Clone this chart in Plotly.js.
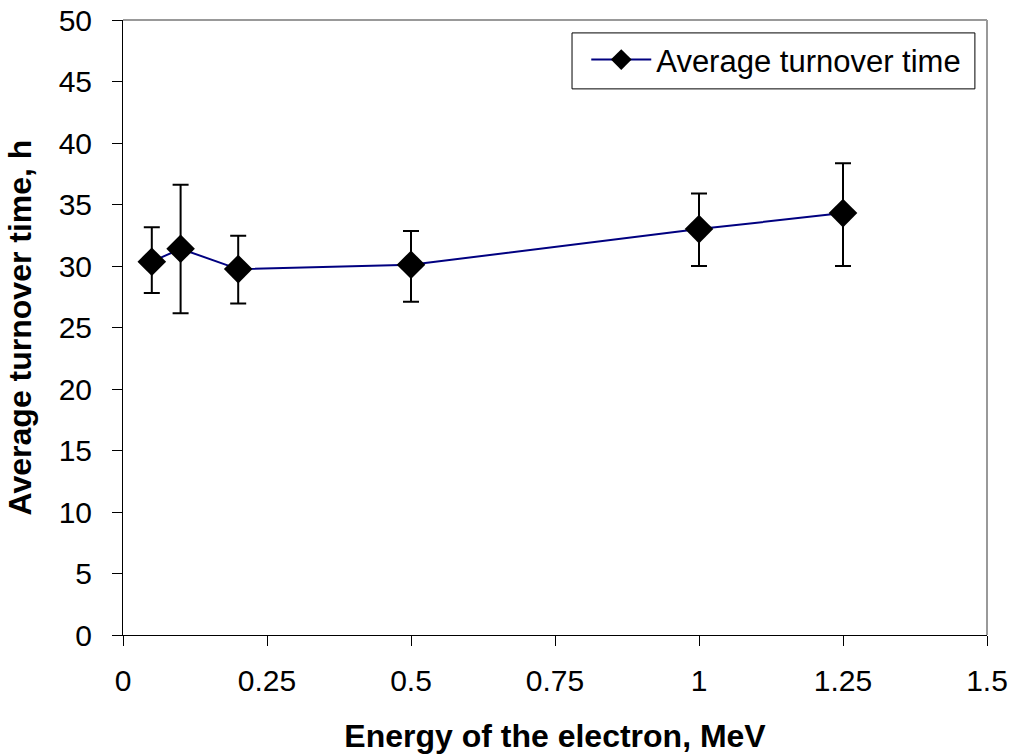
<!DOCTYPE html>
<html>
<head>
<meta charset="utf-8">
<script src="https://cdn.plot.ly/plotly-3.0.1.min.js"></script>
<style>html,body{margin:0;padding:0;background:#fff;}#chart{width:1012px;height:755px;}</style>
</head>
<body>
<div id="chart"></div>
<script>
const energy = [0.05, 0.1, 0.2, 0.5, 1.0, 1.25];
const turnover = [30.35, 31.4, 29.75, 30.1, 33.0, 34.3];
const errPlus = [2.8, 5.2, 2.7, 2.75, 2.9, 4.05];
const errMinus = [2.55, 5.25, 2.8, 3.0, 3.0, 4.3];
const seriesName = 'Average turnover time';
const xTicks = [0, 0.25, 0.5, 0.75, 1, 1.25, 1.5];
const xTickText = ['0', '0.25', '0.5', '0.75', '1', '1.25', '1.5'];

const trace = {
  x: energy, y: turnover, name: seriesName,
  type: 'scatter', mode: 'lines+markers',
  line: {color: '#000080', width: 2},
  marker: {symbol: 'diamond', size: 22, color: '#000000'},
  error_y: {type: 'data', symmetric: false, array: errPlus, arrayminus: errMinus,
            color: '#000000', thickness: 2, width: 8}
};

const layout = {
  width: 1012, height: 755,
  margin: {l: 123, r: 25, t: 20, b: 120},
  paper_bgcolor: '#ffffff', plot_bgcolor: '#ffffff',
  font: {family: 'Liberation Sans, Arial, sans-serif', color: '#000', size: 30},
  showlegend: true,
  legend: {x: 0.976, xanchor: 'right', y: 0.979, yanchor: 'top',
           borderwidth: 0, bgcolor: 'rgba(0,0,0,0)', itemwidth: 60,
           font: {size: 31, color: '#000'}},
  xaxis: {range: [0, 1.5], tickvals: xTicks, ticktext: xTickText,
          showgrid: false, zeroline: false, showline: true, linecolor: '#000', linewidth: 1,
          ticks: 'outside', ticklen: 10, tickcolor: '#000', tickfont: {size: 30},
          ticklabelstandoff: 9, mirror: false,
          title: {text: '<b>Energy of the electron, MeV</b>', font: {size: 32}, standoff: 28}},
  yaxis: {range: [0, 50], dtick: 5, showgrid: false, zeroline: false,
          showline: true, linecolor: '#000', linewidth: 1,
          ticks: 'outside', ticklen: 10, tickcolor: '#000', tickfont: {size: 30},
          ticklabelstandoff: 14,
          title: {text: '<b>Average turnover time, h</b>', font: {size: 32}, standoff: 17}},
  shapes: [
    {type: 'line', xref: 'paper', yref: 'paper', x0: 0, x1: 1, y0: 1, y1: 1, line: {color: '#999', width: 2}},
    {type: 'line', xref: 'paper', yref: 'paper', x0: 1, x1: 1, y0: 0, y1: 1, line: {color: '#999', width: 2}},
    {type: 'rect', xref: 'paper', yref: 'paper', x0: 0.5197, x1: 0.986, y0: 0.888, y1: 0.979,
     line: {color: '#000', width: 1}, fillcolor: 'rgba(0,0,0,0)', layer: 'above'}
  ]
};

Plotly.newPlot('chart', [trace], layout, {displayModeBar: false, staticPlot: true});
</script>
</body>
</html>
